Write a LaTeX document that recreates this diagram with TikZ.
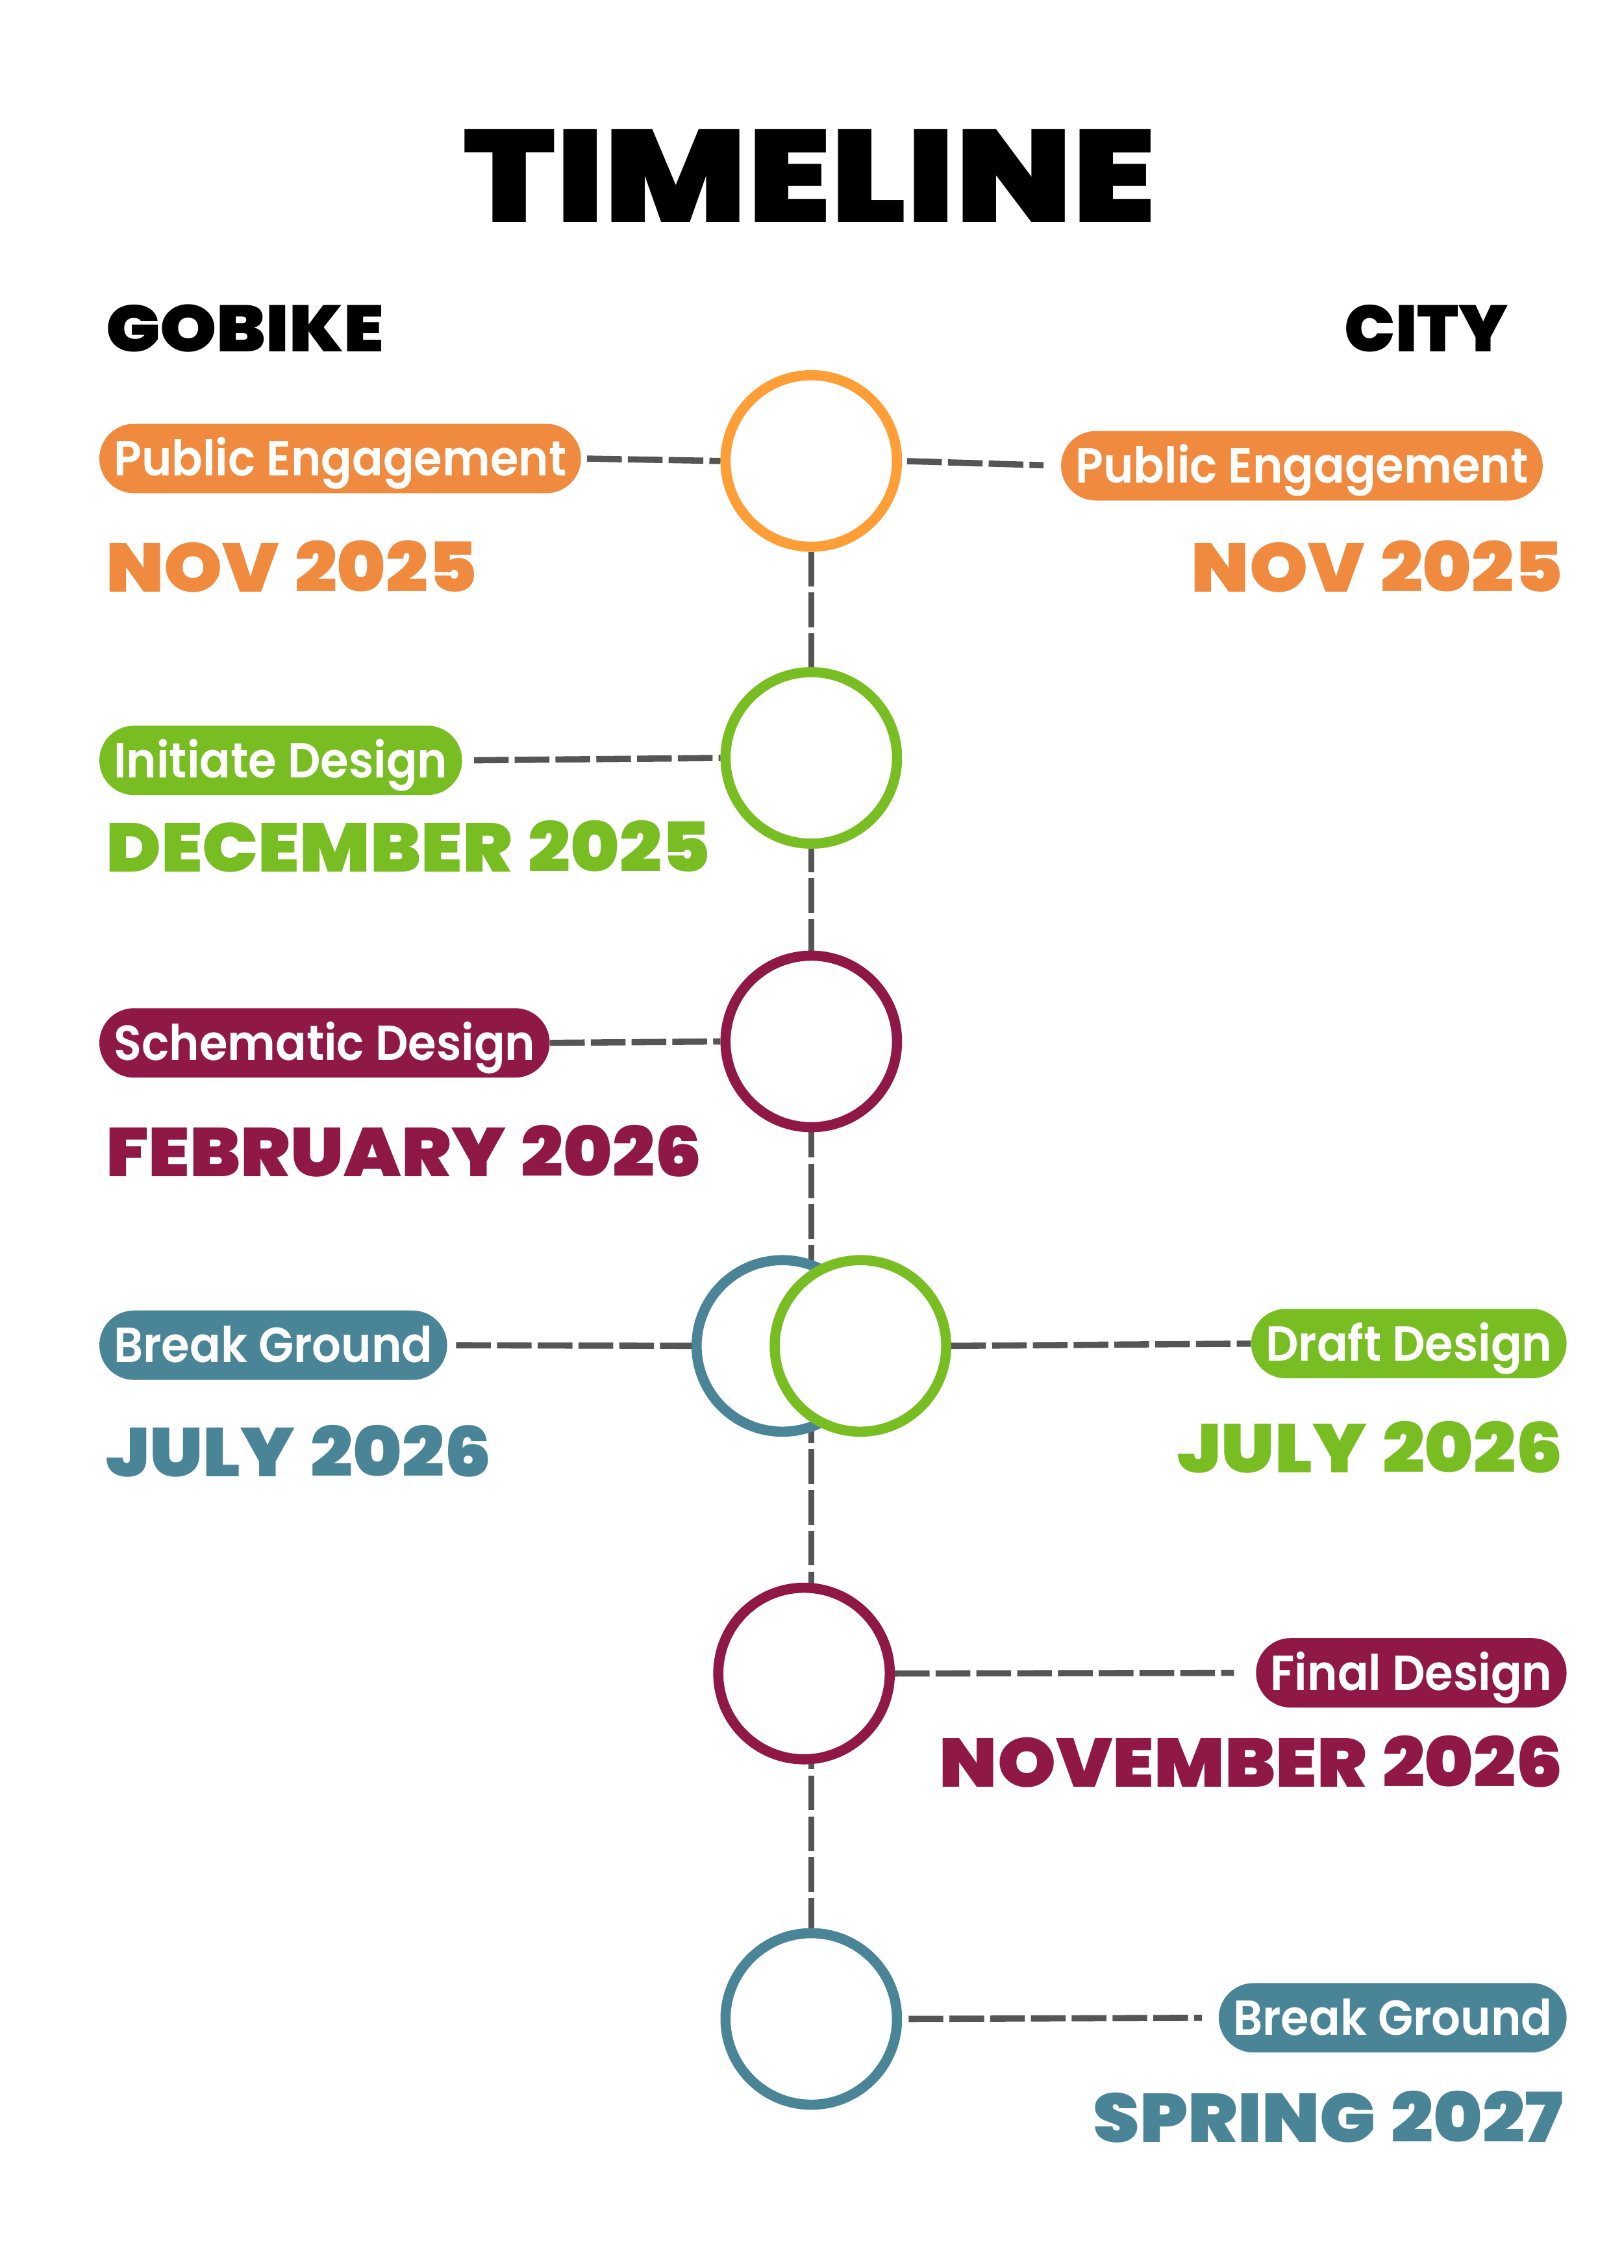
\documentclass[tikz,border=0pt]{standalone}
\usepackage{fontspec}
\setmainfont{Poppins}
\newfontfamily\titlefont{Poppins Black}[FakeStretch=1.145]
\newfontfamily\headfont{Poppins Black}[FakeStretch=1.1]
\newfontfamily\cityfont{Poppins Black}[FakeStretch=1.03]
\newfontfamily\heavyfont{Poppins Black}[FakeStretch=1.08,WordSpace=1.25]
\newfontfamily\pillfont{Poppins SemiBold}[FakeStretch=0.93]
\usepackage{tikz}
\usetikzlibrary{positioning,backgrounds}
\definecolor{TlOrange}{RGB}{239,138,63}
\definecolor{RingOrange}{RGB}{255,157,54}
\definecolor{TlGreen}{RGB}{120,189,34}
\definecolor{TlMaroon}{RGB}{143,24,70}
\definecolor{TlBlue}{RGB}{74,133,151}
\definecolor{LineGray}{RGB}{85,85,85}
\tikzset{
  ring/.style={circle,draw=#1,fill=white,line width=7pt,minimum size=118.6pt,inner sep=0pt},
  pill/.style={fill=#1,rounded corners=24pt,text=white,font=\pillfont\fontsize{34}{34}\selectfont,
    inner xsep=10pt,inner ysep=12pt,text height=24pt,text depth=0pt,minimum height=48pt},
  datelab/.style={text=#1,font=\heavyfont\fontsize{47.6}{48}\selectfont,inner sep=0pt},
  head/.style={font=\headfont\fontsize{45.3}{46}\selectfont,inner sep=0pt},
}
\tikzset{dashline/.style={draw=LineGray,line width=4.3pt,dash pattern=on 24pt off 4.2pt}}

\begin{document}
\begin{tikzpicture}[x=1pt,y=-1pt]
\useasboundingbox (0,0) rectangle (1123,1568);
\node[font=\titlefont\fontsize{90.8}{91}\selectfont,inner sep=0pt,anchor=base] (title) at (560,153.9) {TIMELINE};
\node[head,anchor=base west] (gobike) at (73,243) {GOBIKE};
\node[head,font=\cityfont\fontsize{45.3}{46}\selectfont,anchor=base east] (city) at (1043,243) {CITY};
\node[ring=RingOrange] (c1) at (561,318.7) {};
\node[ring=TlGreen] (c2) at (561,524) {};
\node[ring=TlMaroon] (c3) at (561,720) {};
\node[ring=TlBlue] (c4a) at (541,930.5) {};
\node[ring=TlGreen] (c4b) at (595,930.5) {};
\node[ring=TlMaroon] (c5) at (556,1157) {};
\node[ring=TlBlue] (c6) at (561,1395.8) {};
\begin{scope}[on background layer]
\draw[dashline] (c1.south) -- (c6.north);
\end{scope}
\node[pill=TlOrange,anchor=west] (pl1) at (68.5,317) {Public Engagement};
\node[pill=TlGreen,anchor=west] (pl2) at (68.5,525.7) {Initiate Design};
\node[pill=TlMaroon,anchor=west] (pl3) at (68.5,721) {Schematic Design};
\node[pill=TlBlue,anchor=west] (pl4) at (68.5,930) {Break Ground};
\node[pill=TlOrange,anchor=east] (pr1) at (1067,322) {Public Engagement};
\node[pill=TlGreen,anchor=east] (pr4) at (1083.5,928.9) {Draft Design};
\node[pill=TlMaroon,anchor=east] (pr5) at (1083.5,1156.5) {Final Design};
\node[pill=TlBlue,anchor=east] (pr6) at (1083.5,1395) {Break Ground};
\draw[dashline,shorten <=4pt] (pl1.east) -- (c1.west);
\draw[dashline,shorten <=8pt] (pl2.east) -- (c2.west);
\draw[dashline] (pl3.east) -- (c3.west);
\draw[dashline,shorten <=6pt] (pl4.east) -- (c4a.west);
\draw[dashline,shorten <=3.5pt,shorten >=12pt] (c1.east) -- (pr1.west);
\draw[dashline] (c4b.east) -- (pr4.west);
\draw[dashline,shorten >=15pt] (c5.east) -- (pr5.west);
\draw[dashline,shorten <=4.5pt,shorten >=11.5pt] (c6.east) -- (pr6.west);
\node[datelab=TlOrange,anchor=base west] (dl1) at (73,409.5) {NOV 2025};
\node[datelab=TlGreen,anchor=base west] (dl2) at (73,602.7) {DECEMBER 2025};
\node[datelab=TlMaroon,anchor=base west] (dl3) at (73,813.4) {FEBRUARY 2026};
\node[datelab=TlBlue,anchor=base west] (dl4) at (73,1020.9) {JULY 2026};
\node[datelab=TlOrange,anchor=base east] (dr1) at (1081,409.5) {NOV 2025};
\node[datelab=TlGreen,anchor=base east] (dr4) at (1081,1018) {JULY 2026};
\node[datelab=TlMaroon,anchor=base east] (dr5) at (1081,1235.6) {NOVEMBER 2026};
\node[datelab=TlBlue,anchor=base east] (dr6) at (1081,1481) {SPRING 2027};
\end{tikzpicture}
\end{document}
